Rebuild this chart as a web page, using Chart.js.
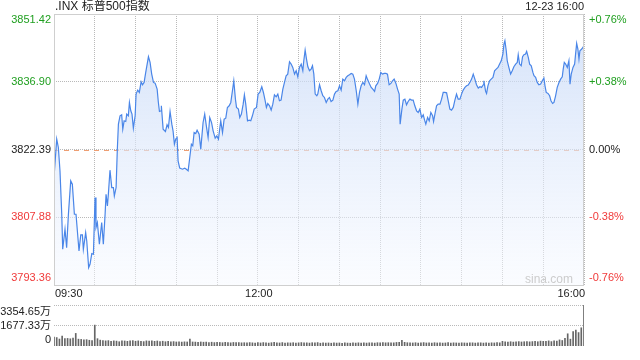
<!DOCTYPE html>
<html>
<head>
<meta charset="utf-8">
<script src="https://cdn.jsdelivr.net/npm/chart.js@4.4.0/dist/chart.umd.min.js"></script>
<style>
html, body { margin: 0; padding: 0; background: #fff; }
#wrap { position: relative; width: 640px; height: 360px; }
#priceCanvas { position: absolute; left: 0; top: 0; }
#volCanvas { position: absolute; left: 0; top: 300px; }
</style>
</head>
<body>
<div id="wrap">
  <canvas id="priceCanvas" width="640" height="300"></canvas>
  <canvas id="volCanvas" width="640" height="60"></canvas>
</div>
<script>
// ==================== DATOS ====================

const titulo = '.INX 标普500指数';
const fechaHora = '12-23 16:00';
const prevClose = 3822.39;

// minutos desde las 09:30
const minutes = [
  0, 2.0, 3.2, 4.4, 5.7, 6.4, 8.1, 9.3, 10.6, 12.3, 13.5, 15.0, 16.2, 18.4, 19.7, 20.9, 21.6, 23.3, 24.1, 25.5,
  26.5, 27.8, 29.0, 30.2, 30.9, 31.9, 33.4, 35.1, 36.3, 37.6, 38.3, 39.3, 40.0, 41.2, 42.5, 43.7, 44.4, 45.7, 46.6, 47.4,
  48.6, 49.8, 50.6, 51.6, 52.8, 53.5, 54.7, 55.5, 56.5, 57.4, 58.4, 59.7, 60.4, 61.6, 62.8, 64.1, 65.1, 66.3, 67.5, 69.5,
  70.7, 71.9, 73.2, 74.4, 75.9, 76.8, 77.6, 78.8,
  79.0, 80.3, 82.0, 83.2, 84.2, 85.4, 86.7, 87.6, 88.6, 89.6, 90.6, 91.3, 92.5, 94.5, 96.2, 97.4, 98.7, 99.9, 101.1, 102.1,
  103.1, 104.3, 105.3, 106.8, 108.0, 109.7, 110.9, 112.2, 113.4, 114.6, 115.9, 117.1, 118.6, 119.8, 121.0, 122.7, 124.0, 125.2, 126.4, 127.6,
  128.9, 130.1, 131.3, 132.3, 133.5, 134.3, 135.7, 136.7, 137.9, 139.2, 140.1, 141.1, 142.4, 143.6, 144.8, 146.0, 147.3, 149.0, 150.2, 151.4,
  152.9, 154.1, 155.4, 156.3,
  157.3, 158.6, 159.8, 161.0, 162.2, 163.5, 164.7, 165.9, 167.1, 168.4, 169.6, 170.8, 172.0, 173.3, 174.5, 175.7, 177.0, 178.2, 179.4, 180.6,
  181.9, 183.1, 183.8, 184.8, 185.8, 186.8, 188.0, 189.2, 190.2, 191.2, 192.2, 193.4, 194.1, 195.4, 196.6, 197.8, 199.0, 200.3, 201.5, 202.7,
  203.9, 205.2, 206.4, 207.6, 208.9, 210.1, 211.3, 212.5, 213.8, 215.0, 216.2, 217.4, 218.7, 219.9, 221.1, 222.4, 223.6, 224.8, 226.0, 227.3,
  228.5, 229.7, 230.9, 232.2, 233.4, 234.6, 235.9,
  236.8, 238.1, 239.3, 240.5, 241.7, 243.0, 244.2, 245.4, 246.6, 247.9, 249.1, 250.3, 251.6, 252.8, 254.0, 254.7, 256.0, 257.0, 258.2, 259.4,
  260.6, 261.9, 263.1, 264.3, 265.5, 266.8, 268.0, 269.2, 270.5, 271.7, 272.7, 273.6, 274.9, 276.1, 277.3, 278.6, 279.3, 280.3, 281.5, 282.7,
  284.0, 285.2, 286.4, 287.6, 288.9, 290.1, 291.3, 292.5, 293.8, 295.0, 296.2, 297.4, 298.7, 299.9, 301.1, 302.4, 303.6, 304.8, 306.0, 307.3,
  308.5, 309.7, 310.9, 312.2, 313.4, 314.6, 315.9,
  316.3, 317.6, 318.3, 319.3, 320.5, 321.7, 323.0, 324.2, 325.4, 326.7, 327.9, 329.1, 330.3, 331.1, 331.8, 332.8, 333.5, 334.7, 336.0, 337.2,
  338.4, 339.7, 340.9, 341.6, 342.6, 343.8, 344.8, 345.8, 347.0, 347.8, 349.0, 350.0, 351.2, 352.4, 353.2, 354.4, 355.6, 356.8, 358.1, 359.3,
  360.5, 361.3, 362.2, 363.5, 364.7, 365.7, 366.9, 367.9, 369.1, 370.3, 371.6, 372.8, 374.0, 374.7, 375.5, 376.5, 377.7, 378.9, 379.7, 380.6,
  381.9, 383.1, 383.8, 384.6, 385.5, 386.3, 387.0, 388.3, 389.2, 390.0
];

const prices = [
  3816.39, 3824.61, 3822.82, 3817.82, 3808.52, 3801.02, 3805.31, 3801.37, 3808.52, 3815.67, 3814.96, 3808.52, 3808.52, 3800.66, 3804.09, 3804.09, 3801.02, 3804.59, 3802.80, 3797.09,
  3797.80, 3800.09, 3799.95, 3812.10, 3805.66, 3806.74, 3802.09, 3806.74, 3802.09, 3808.52, 3812.81, 3810.31, 3812.81, 3817.96, 3814.24, 3814.24, 3812.45, 3814.24, 3822.46, 3827.82,
  3829.61, 3829.82, 3826.75, 3828.54, 3828.39, 3829.97, 3829.61, 3832.47, 3830.68, 3829.97, 3826.96, 3829.61, 3834.26, 3835.11, 3834.61, 3836.90, 3836.26, 3836.76, 3838.90, 3842.26,
  3841.05, 3838.54, 3836.76, 3836.61, 3835.33, 3832.47, 3830.54, 3830.68,
  3831.75, 3826.75, 3826.25, 3827.68, 3827.11, 3830.54, 3827.82, 3826.39, 3823.53, 3824.61, 3824.96, 3819.96, 3818.39, 3818.17, 3818.39, 3818.17, 3817.82, 3820.67, 3823.53, 3823.18,
  3826.04, 3825.82, 3826.54, 3825.68, 3822.46, 3828.18, 3829.97, 3827.25, 3824.96, 3829.25, 3828.18, 3826.39, 3824.82, 3825.32, 3824.61, 3828.54, 3826.04, 3828.89, 3829.11, 3831.40,
  3831.75, 3832.47, 3834.97, 3837.11, 3833.18, 3831.40, 3831.04, 3829.25, 3829.97, 3832.11, 3834.11, 3832.11, 3828.54, 3828.68, 3828.54, 3829.61, 3831.04, 3831.40, 3834.26, 3834.61,
  3835.83, 3834.61, 3832.83, 3831.40,
  3832.25, 3831.75, 3830.82, 3832.11, 3834.11, 3833.68, 3834.26, 3832.83, 3832.97, 3835.33, 3836.76, 3838.19, 3838.54, 3841.19, 3840.69, 3839.97, 3838.54, 3839.26, 3837.97, 3839.97,
  3840.69, 3839.26, 3841.40, 3843.69, 3841.76, 3840.12, 3839.26, 3839.62, 3840.33, 3838.54, 3834.26, 3833.90, 3834.26, 3836.26, 3834.97, 3833.90, 3833.54, 3832.47, 3833.18, 3833.54,
  3832.68, 3832.97, 3834.26, 3834.83, 3834.97, 3836.04, 3835.11, 3837.47, 3837.11, 3837.83, 3838.19, 3838.40, 3838.69, 3838.54, 3837.47, 3834.97, 3832.11, 3834.61, 3836.04, 3836.76,
  3836.26, 3838.19, 3837.26, 3836.40, 3835.69, 3835.33, 3834.83,
  3836.04, 3836.54, 3837.47, 3838.90, 3838.54, 3838.69, 3838.69, 3838.54, 3836.26, 3836.54, 3837.11, 3837.47, 3836.54, 3835.33, 3834.26, 3827.82, 3831.04, 3832.97, 3833.18, 3831.97,
  3832.68, 3833.18, 3832.97, 3832.97, 3831.75, 3830.68, 3830.32, 3831.04, 3829.25, 3829.82, 3828.68, 3827.82, 3829.25, 3828.54, 3830.32, 3829.61, 3828.39, 3829.97, 3831.75, 3832.11,
  3832.11, 3833.18, 3834.61, 3834.61, 3834.54, 3832.83, 3831.04, 3830.82, 3831.40, 3832.97, 3834.26, 3833.18, 3833.18, 3834.26, 3835.11, 3835.69, 3836.04, 3836.19, 3836.76, 3837.47,
  3838.54, 3837.47, 3836.26, 3835.54, 3835.83, 3835.69, 3836.26,
  3837.11, 3834.83, 3834.40, 3836.04, 3837.11, 3837.47, 3837.83, 3839.26, 3839.62, 3839.97, 3840.69, 3841.40, 3842.83, 3844.98, 3845.69, 3843.55, 3841.40, 3839.97, 3838.54, 3839.26,
  3840.12, 3840.69, 3841.05, 3842.69, 3840.69, 3840.33, 3842.26, 3842.69, 3842.83, 3843.41, 3842.12, 3840.69, 3840.33, 3838.90, 3838.19, 3837.83, 3836.76, 3836.26, 3836.40, 3837.11,
  3837.69, 3836.04, 3834.61, 3834.40, 3833.90, 3832.83, 3832.25, 3832.47, 3833.90, 3835.69, 3836.76, 3837.47, 3837.97, 3839.62, 3841.05, 3840.69, 3839.97, 3841.40, 3836.40, 3838.54,
  3839.97, 3840.69, 3842.83, 3845.12, 3843.91, 3841.76, 3843.55, 3843.91, 3844.26, 3844.62
];

// volumen (万) cada 2 minutos
const volumes = [
  720, 690, 570, 820, 600, 620, 590, 640, 1030, 560, 540, 500, 520, 470, 450, 1710, 600, 480, 450, 420,
  440, 380, 420, 400, 350, 430, 410, 380, 420, 440, 390, 420, 380, 360, 420, 400, 430, 380, 410, 370,
  390, 350, 380, 340, 360, 330, 350, 320, 340, 330, 560, 330, 320, 300, 330, 310, 320, 290, 310, 280,
  300, 290, 270, 300, 280, 260, 290, 270, 280, 260, 270, 250, 280, 260, 240, 270, 250, 280, 260, 240,
  270, 300, 260, 250, 280, 240, 260, 250, 270, 240, 260, 280, 250, 260, 240, 270, 250, 280, 230, 260,
  240, 250, 230, 260, 240, 250, 220, 260, 240, 230, 250, 240, 260, 230, 250, 240, 260, 250, 240, 270,
  250, 280, 260, 270, 250, 260, 290, 300, 460, 300, 270, 260, 250, 270, 240, 260, 280, 250, 260, 240,
  270, 250, 260, 240, 250, 270, 240, 260, 250, 240, 260, 250, 230, 250, 260, 240, 250, 260, 240, 250,
  230, 260, 250, 270, 260, 380, 340, 330, 350, 320, 340, 360, 330, 350, 370, 340, 360, 380, 350, 400,
  380, 390, 420, 360, 430, 400, 500, 450, 620, 1000, 560, 1190, 1300, 1100, 1490, 3354.65
];
const volStep = 2;

// marcas de los ejes
const yTicks = [3851.42, 3836.90, 3822.39, 3807.88, 3793.36];
const pctLabels = ['+0.76%', '+0.38%', '0.00%', '-0.38%', '-0.76%'];
const timeTicks = [0, 150, 390];
const timeLabels = ['09:30', '12:00', '16:00'];
const volTicks = [3354.65, 1677.33, 0];
const volLabels = ['3354.65万', '1677.33万', '0'];

// ==================== ESTILOS ====================

const FUENTE = '"Liberation Sans", Arial, "Noto Sans CJK SC", sans-serif';
const VERDE = '#1f9f1f';
const ROJO = '#f03a3a';
const GRIS_TEXTO = '#222';
const GRIS_REJILLA = '#b9b9b9';
const MARCO = '#cfcfcf';

function colorPrecio(v) {
    if (Math.abs(v - prevClose) < 0.005) return GRIS_TEXTO;
    return v > prevClose ? VERDE : ROJO;
}

// ==================== GRÁFICO DE PRECIO ====================

const puntos = minutes.map((m, i) => ({ x: m, y: prices[i] }));

const pluginPrecio = {
    id: 'pluginPrecio',
    beforeDatasetsDraw(chart) {
        const { ctx, chartArea: a, scales: { y } } = chart;
        const py = Math.round(y.getPixelForValue(prevClose)) + 0.5;
        ctx.save();
        ctx.strokeStyle = '#ee9e72';
        ctx.lineWidth = 1;
        ctx.setLineDash([5, 5]);
        ctx.beginPath();
        ctx.moveTo(a.left, py);
        ctx.lineTo(a.right, py);
        ctx.stroke();
        ctx.restore();
    },
    afterDraw(chart) {
        const { ctx, chartArea: a, scales: { x, y } } = chart;
        ctx.save();
        // marco
        ctx.strokeStyle = MARCO;
        ctx.lineWidth = 1;
        ctx.strokeRect(Math.round(a.left) + 0.5, Math.round(a.top) + 0.5,
            Math.round(a.right - a.left) - 1, Math.round(a.bottom - a.top));

        // etiquetas de precio y porcentaje
        ctx.font = '11px ' + FUENTE;
        ctx.textBaseline = 'middle';
        yTicks.forEach((v, i) => {
            let py = y.getPixelForValue(v);
            if (i === 0) py += 6;
            if (i === yTicks.length - 1) py -= 7;
            ctx.fillStyle = colorPrecio(v);
            ctx.textAlign = 'right';
            ctx.fillText(v.toFixed(2), a.left - 3, py);
            ctx.textAlign = 'left';
            ctx.fillText(pctLabels[i], a.right + 5, py);
        });

        // etiquetas de hora
        ctx.fillStyle = GRIS_TEXTO;
        timeTicks.forEach((t, i) => {
            const px = x.getPixelForValue(t);
            ctx.textAlign = i === 0 ? 'left' : (i === timeTicks.length - 1 ? 'right' : 'center');
            ctx.fillText(timeLabels[i], px + 1, a.bottom + 9);
        });

        // título y fecha
        ctx.font = '12px ' + FUENTE;
        ctx.textAlign = 'left';
        ctx.fillText(titulo, a.left + 1, 7);
        ctx.font = '11px ' + FUENTE;
        ctx.textAlign = 'right';
        ctx.fillText(fechaHora, a.right, 7);

        // marca de agua
        ctx.font = '12px ' + FUENTE;
        ctx.fillStyle = '#cdcdcd';
        ctx.textAlign = 'right';
        ctx.fillText('sina.com', a.right - 11, a.bottom - 5);
        ctx.restore();
    }
};

new Chart(document.getElementById('priceCanvas'), {
    type: 'line',
    data: {
        datasets: [{
            data: puntos,
            borderColor: '#4a86e8',
            borderWidth: 1.2,
            pointRadius: 0,
            tension: 0,
            fill: 'start',
            backgroundColor: (context) => {
                const area = context.chart.chartArea;
                if (!area) return 'rgba(200,218,248,0.6)';
                const g = context.chart.ctx.createLinearGradient(0, area.top, 0, area.bottom);
                g.addColorStop(0, 'rgba(196,215,247,0.75)');
                g.addColorStop(1, 'rgba(246,249,255,0.5)');
                return g;
            }
        }]
    },
    options: {
        responsive: false,
        animation: false,
        layout: { padding: { left: 54, right: 56, top: 14, bottom: 15 } },
        plugins: { legend: { display: false }, tooltip: { enabled: false } },
        scales: {
            x: {
                type: 'linear',
                min: 0,
                max: 390,
                z: 1,
                ticks: { display: false, stepSize: 30 },
                grid: { color: GRIS_REJILLA, drawTicks: false },
                border: { display: false, dash: [1, 1] }
            },
            y: {
                min: yTicks[yTicks.length - 1],
                max: yTicks[0],
                z: 1,
                afterBuildTicks: (s) => { s.ticks = yTicks.map(v => ({ value: v })); },
                ticks: { display: false },
                grid: { color: GRIS_REJILLA, drawTicks: false },
                border: { display: false, dash: [1, 1] }
            }
        }
    },
    plugins: [pluginPrecio]
});

// ==================== GRÁFICO DE VOLUMEN ====================

const barras = volumes.map((v, i) => ({ x: i * volStep, y: v }));

const pluginVolumen = {
    id: 'pluginVolumen',
    afterDraw(chart) {
        const { ctx, chartArea: a, scales: { y } } = chart;
        ctx.save();
        ctx.font = '11px ' + FUENTE;
        ctx.fillStyle = GRIS_TEXTO;
        ctx.textAlign = 'right';
        ctx.textBaseline = 'middle';
        volTicks.forEach((v, i) => {
            let py = y.getPixelForValue(v);
            if (i === 0) py += 7;
            if (i === volTicks.length - 1) py -= 6;
            ctx.fillText(volLabels[i], a.left - 3, py);
        });
        ctx.restore();
    }
};

new Chart(document.getElementById('volCanvas'), {
    type: 'bar',
    data: {
        datasets: [{
            data: barras,
            backgroundColor: '#666',
            barThickness: 1,
            grouped: false
        }]
    },
    options: {
        responsive: false,
        animation: false,
        layout: { padding: { left: 54, right: 56, top: 5, bottom: 6 } },
        plugins: { legend: { display: false }, tooltip: { enabled: false } },
        scales: {
            x: {
                type: 'linear',
                min: 0,
                max: 390,
                offset: false,
                ticks: { display: false },
                grid: { display: false, offset: false },
                border: { display: false }
            },
            y: {
                min: 0,
                max: volTicks[0],
                afterBuildTicks: (s) => { s.ticks = volTicks.slice(0, 2).map(v => ({ value: v })); },
                ticks: { display: false },
                grid: { color: GRIS_REJILLA, drawTicks: false },
                border: { display: false, dash: [1, 1] }
            }
        }
    },
    plugins: [pluginVolumen]
});
</script>
</body>
</html>
